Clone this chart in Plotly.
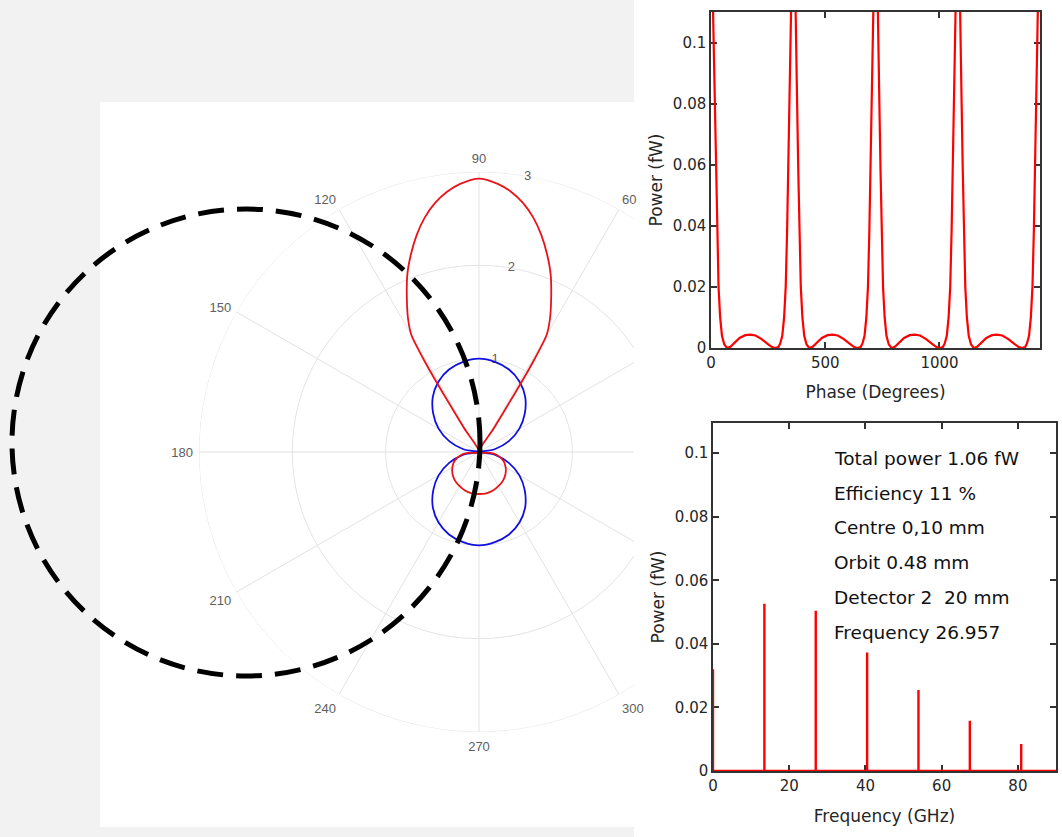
import numpy as np
import plotly.graph_objects as go

# ---------------- data ----------------
# Polar radiation patterns (angle in degrees, radius)
red_theta = [57.5, 58, 58.5, 59, 60, 62, 65, 68, 71, 74, 77, 80, 83, 86, 90,
             94, 97, 100, 103, 106, 109, 112, 115, 118, 120, 121, 121.5, 122, 122.5,
             185, 190, 200, 210, 220, 230, 240, 250, 260, 270,
             280, 290, 300, 310, 320, 330, 340, 350, 355, 360]
red_r = [0, 0.3, 0.7, 1.1, 1.45, 1.62, 1.83, 2.05, 2.24, 2.42, 2.58, 2.71, 2.81, 2.88, 2.93,
         2.88, 2.81, 2.71, 2.58, 2.42, 2.24, 2.05, 1.83, 1.62, 1.45, 1.1, 0.7, 0.3, 0,
         0.12, 0.2, 0.28, 0.33, 0.37, 0.4, 0.42, 0.44, 0.45, 0.45,
         0.45, 0.44, 0.42, 0.4, 0.37, 0.33, 0.28, 0.2, 0.12, 0]

blue_theta = [0, 10, 20, 30, 40, 50, 60, 70, 80, 90, 100, 110, 120, 130, 140, 150, 160, 170, 180,
              190, 200, 210, 220, 230, 240, 250, 260, 270, 280, 290, 300, 310, 320, 330, 340, 350, 360]
blue_r = [0, 0.17, 0.34, 0.5, 0.64, 0.77, 0.87, 0.94, 0.98, 1.0, 0.98, 0.94, 0.87, 0.77, 0.64, 0.5, 0.34, 0.17, 0,
          0.17, 0.34, 0.5, 0.64, 0.77, 0.87, 0.94, 0.98, 1.0, 0.98, 0.94, 0.87, 0.77, 0.64, 0.5, 0.34, 0.17, 0]

polar_angle_ticks = [60, 90, 120, 150, 180, 210, 240, 270, 300]
polar_radial_ticks = [1, 2, 3]
polar_radial_label_angle = 80

# Power vs phase (degrees, fW)
phase_deg = [0, 5, 9, 13, 17, 22, 27, 33, 40, 48, 58, 70, 85, 105, 125, 150, 172, 195, 220, 245, 265, 280, 295, 303, 312, 320, 327, 333, 338, 343, 347, 351, 355,
             360, 365, 369, 373, 377, 382, 387, 393, 400, 408, 418, 430, 445, 465, 485, 510, 532, 555, 580, 605, 625, 640, 655, 663, 672, 680, 687, 693, 698, 703, 707, 711, 715,
             720, 725, 729, 733, 737, 742, 747, 753, 760, 768, 778, 790, 805, 825, 845, 870, 892, 915, 940, 965, 985, 1000, 1015, 1023, 1032, 1040, 1047, 1053, 1058, 1063, 1067, 1071, 1075,
             1080, 1085, 1089, 1093, 1097, 1102, 1107, 1113, 1120, 1128, 1138, 1150, 1165, 1185, 1205, 1230, 1252, 1275, 1300, 1325, 1345, 1360, 1375, 1383, 1392, 1400, 1407, 1413, 1418, 1423, 1427, 1431, 1435,
             1440]
phase_power = [0.15, 0.135, 0.11, 0.095, 0.08, 0.058, 0.038, 0.02, 0.01, 0.004, 0.0012, 0.0, 0.0004, 0.0017, 0.0033, 0.0042, 0.0044, 0.0041, 0.003, 0.0015, 0.0004, 0.0, 0.0003, 0.0015, 0.004, 0.01, 0.02, 0.038, 0.058, 0.08, 0.095, 0.11, 0.135,
               0.15, 0.135, 0.11, 0.095, 0.08, 0.058, 0.038, 0.02, 0.01, 0.004, 0.0012, 0.0, 0.0004, 0.0017, 0.0033, 0.0042, 0.0044, 0.0041, 0.003, 0.0015, 0.0004, 0.0, 0.0003, 0.0015, 0.004, 0.01, 0.02, 0.038, 0.058, 0.08, 0.095, 0.11, 0.135,
               0.15, 0.135, 0.11, 0.095, 0.08, 0.058, 0.038, 0.02, 0.01, 0.004, 0.0012, 0.0, 0.0004, 0.0017, 0.0033, 0.0042, 0.0044, 0.0041, 0.003, 0.0015, 0.0004, 0.0, 0.0003, 0.0015, 0.004, 0.01, 0.02, 0.038, 0.058, 0.08, 0.095, 0.11, 0.135,
               0.15, 0.135, 0.11, 0.095, 0.08, 0.058, 0.038, 0.02, 0.01, 0.004, 0.0012, 0.0, 0.0004, 0.0017, 0.0033, 0.0042, 0.0044, 0.0041, 0.003, 0.0015, 0.0004, 0.0, 0.0003, 0.0015, 0.004, 0.01, 0.02, 0.038, 0.058, 0.08, 0.095, 0.11, 0.135,
               0.15]

# Spectrum (GHz, fW)
spike_freq = [0, 13.48, 26.96, 40.44, 53.91, 67.39, 80.87]
spike_power = [0.032, 0.0526, 0.0504, 0.0373, 0.0255, 0.0158, 0.0085]
freq_max = 90

info_lines = ["Total power 1.06 fW", "Efficiency 11 %", "Centre 0,10 mm",
              "Orbit 0.48 mm", "Detector 2  20 mm", "Frequency 26.957"]

# ---------------- figure ----------------
W, H = 1062, 837
FONT_P = "Liberation Sans, Arial, Helvetica, sans-serif"
FONT = "DejaVu Sans, Verdana, sans-serif"
GRID = "#e2e2e2"
AX = "#333333"

fig = go.Figure()

# polar grid (clipped where the left panel ends)
clip = 1.66
for ring in polar_radial_ticks:
    if ring <= clip:
        th = np.linspace(0, 360, 361)
    else:
        a0 = np.degrees(np.arccos(clip / ring))
        th = np.linspace(a0, 360 - a0, 361)
    fig.add_trace(go.Scatterpolar(r=np.full_like(th, ring), theta=th, mode="lines",
                                  line=dict(color=GRID, width=1), hoverinfo="skip",
                                  showlegend=False))
for ang in range(0, 360, 30):
    c = np.cos(np.radians(ang))
    rmax = 3 if c <= clip / 3 else min(3, clip / c)
    fig.add_trace(go.Scatterpolar(r=[0, rmax], theta=[ang, ang], mode="lines",
                                  line=dict(color=GRID, width=1), hoverinfo="skip",
                                  showlegend=False))

# radial tick labels sitting on the 80 degree line
fig.add_trace(go.Scatterpolar(r=polar_radial_ticks, theta=[polar_radial_label_angle] * len(polar_radial_ticks),
                              mode="text", text=[str(v) for v in polar_radial_ticks],
                              textposition="middle center",
                              textfont=dict(size=13, color="#5e5e5e", family=FONT_P),
                              hoverinfo="skip", showlegend=False))

fig.add_trace(go.Scatterpolar(r=blue_r, theta=blue_theta, mode="lines",
                              line=dict(color="#1010e0", width=1.8, shape="spline"),
                              showlegend=False))
fig.add_trace(go.Scatterpolar(r=red_r, theta=red_theta, mode="lines",
                              line=dict(color="#e8141a", width=1.8, shape="spline", smoothing=0.8),
                              showlegend=False))

# phase plot
fig.add_trace(go.Scatter(x=phase_deg, y=phase_power, mode="lines", xaxis="x", yaxis="y",
                         line=dict(color="#ff0000", width=2.2), showlegend=False))

# spectrum
sx, sy = [], []
for f, p in zip(spike_freq, spike_power):
    sx += [f, f, f]
    sy += [0, p, 0]
sx.append(freq_max)
sy.append(0)
fig.add_trace(go.Scatter(x=sx, y=sy, mode="lines", xaxis="x2", yaxis="y2",
                         line=dict(color="#ff0000", width=2.4), showlegend=False))

# info text
for i, t in enumerate(info_lines):
    fig.add_annotation(x=31.3, y=0.0984 - i * 0.01094, xref="x2", yref="y2", text=t,
                       showarrow=False, xanchor="left", yanchor="middle",
                       font=dict(size=18.5, color="#111111", family=FONT))

axis_common = dict(showline=True, linecolor=AX, linewidth=1.5, mirror="ticks", ticks="inside",
                   ticklen=6, tickwidth=1.5, tickcolor=AX, showgrid=False, zeroline=False,
                   automargin=False,
                   tickfont=dict(size=15, color="#262626", family=FONT), layer="below traces",
                   title_font=dict(size=17, color="#262626", family=FONT))

def px_x(v):
    return v / W

def px_y(v):
    return 1 - v / H

fig.update_layout(
    width=W, height=H, margin=dict(l=0, r=0, t=0, b=0, pad=0, autoexpand=False),
    paper_bgcolor="#f2f2f2", plot_bgcolor="white",
    font=dict(family=FONT_P),
    polar=dict(
        domain=dict(x=[px_x(199), px_x(759)], y=[px_y(732), px_y(172)]),
        bgcolor="rgba(0,0,0,0)",
        angularaxis=dict(showgrid=False, showline=False, ticks="outside", ticklen=3,
                         tickcolor="rgba(0,0,0,0)", direction="counterclockwise",
                         rotation=0, tickvals=polar_angle_ticks,
                         ticktext=[str(v) for v in polar_angle_ticks],
                         tickfont=dict(size=13, color="#5e5e5e", family=FONT_P)),
        radialaxis=dict(range=[0, 3], showgrid=False, showline=False, ticks="",
                        showticklabels=False),
    ),
    xaxis=dict(domain=[px_x(711), px_x(1040)], anchor="y", range=[0, 1440],
               tickvals=[0, 500, 1000], title=dict(text="Phase (Degrees)", standoff=15), **axis_common),
    yaxis=dict(domain=[px_y(348), px_y(12)], anchor="x", range=[0, 0.11],
               tickvals=[0, 0.02, 0.04, 0.06, 0.08, 0.1], ticktext=["0", "0.02", "0.04", "0.06", "0.08", "0.1"],
               title=dict(text="Power (fW)", standoff=6), **axis_common),
    xaxis2=dict(domain=[px_x(713), px_x(1056)], anchor="y2", range=[0, freq_max],
                tickvals=[0, 20, 40, 60, 80], title=dict(text="Frequency (GHz)", standoff=16), **axis_common),
    yaxis2=dict(domain=[px_y(771), px_y(423)], anchor="x2", range=[0, 0.1095],
                tickvals=[0, 0.02, 0.04, 0.06, 0.08, 0.1], ticktext=["0", "0.02", "0.04", "0.06", "0.08", "0.1"],
                title=dict(text="Power (fW)", standoff=6), **axis_common),
    shapes=[
        dict(type="rect", xref="paper", yref="paper", x0=px_x(100), x1=px_x(634),
             y0=px_y(827), y1=px_y(102), fillcolor="white", line=dict(width=0), layer="below"),
        dict(type="rect", xref="paper", yref="paper", x0=px_x(634), x1=1,
             y0=0, y1=1, fillcolor="white", line=dict(width=0), layer="below"),
        dict(type="circle", xref="paper", yref="paper", x0=px_x(12), x1=px_x(480),
             y0=px_y(676), y1=px_y(209), line=dict(color="black", width=5, dash="26px,13px"),
             layer="above"),
    ],
)

page_fix = ("document.documentElement.style.margin='0';document.documentElement.style.padding='0';"
            "document.body.style.margin='0';document.body.style.padding='0';"
            "document.documentElement.style.overflow='hidden';document.body.style.overflow='hidden';"
            "document.body.style.height='837px';document.documentElement.style.height='837px';")
fig.write_html("out.html", config={"displayModeBar": False}, post_script=page_fix)
